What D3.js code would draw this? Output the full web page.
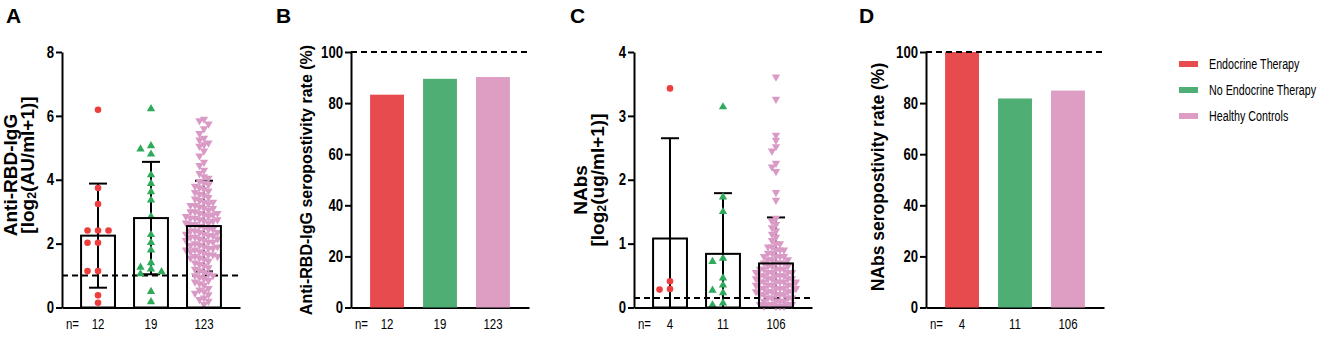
<!DOCTYPE html>
<html>
<head>
<meta charset="utf-8">
<script src="https://cdn.jsdelivr.net/npm/d3@7"></script>
<style>
  body { margin: 0; background: #fff; }
  svg { display: block; }
  .axis path, .axis line { stroke: #000; stroke-width: 2; }
  .axis text { font-family: "Liberation Sans", Arial, sans-serif; font-weight: bold; font-size: 16px; fill: #000; }
  .nlab { font-family: "Liberation Sans", Arial, sans-serif; font-size: 14px; fill: #000; }
  .ttl { font-family: "Liberation Sans", Arial, sans-serif; font-weight: bold; fill: #000; }
  .legend text { font-family: "Liberation Sans", Arial, sans-serif; font-size: 14.5px; fill: #000; }
</style>
</head>
<body>
<div id="chart"></div>
<script>
// Data
const groups = ["Endocrine Therapy", "No Endocrine Therapy", "Healthy Controls"]

// panel A: anti-RBD-IgG, log2(AU/ml+1)
const iggEndocrine = [6.19, 3.74, 3.24, 2.41, 2.41, 2.41, 2.03, 2.03, 1.14, 1.14, 0.38, 0.15]
const iggNoEndocrine = [6.22, 5.06, 4.96, 4.80, 4.15, 3.88, 3.62, 3.36, 2.85, 2.28, 2.03, 1.80,
  1.40, 1.26, 1.20, 1.12, 1.05, 0.50, 0.18]
const iggHealthy = [5.90, 5.85, 5.75, 5.60, 5.45, 5.30, 5.25, 5.15, 5.10, 5.05,
  4.90, 4.75, 4.55, 4.45, 4.30, 4.20, 4.10, 4.05,
  3.95, 3.90, 3.85, 3.80, 3.75, 3.70, 3.65, 3.60, 3.55, 3.50,
  3.45, 3.40, 3.35, 3.30, 3.30, 3.25, 3.20, 3.20, 3.15, 3.10, 3.10, 3.05, 3.00, 3.00,
  2.95, 2.95, 2.90, 2.90, 2.85, 2.85, 2.80, 2.80, 2.75, 2.75, 2.70, 2.70, 2.65, 2.65, 2.60, 2.60, 2.55, 2.50,
  2.45, 2.45, 2.40, 2.40, 2.35, 2.35, 2.30, 2.30, 2.25, 2.25, 2.20, 2.20, 2.15, 2.15, 2.10, 2.10, 2.05, 2.05, 2.00,
  1.95, 1.95, 1.90, 1.90, 1.85, 1.85, 1.80, 1.80, 1.75, 1.75, 1.70, 1.65, 1.65, 1.60, 1.60, 1.55, 1.55, 1.50,
  1.45, 1.40, 1.35, 1.30, 1.25, 1.20, 1.15, 1.10, 1.05, 1.00, 1.00,
  0.95, 0.90, 0.85, 0.80, 0.75, 0.70, 0.60, 0.55, 0.50,
  0.45, 0.40, 0.30, 0.25, 0.20, 0.10]
const iggMean = [2.25, 2.80, 2.55]
const iggSD = [1.63, 1.76, 1.42]
const iggN = [12, 19, 123]
const iggCutoff = 1
const iggTicks = [0, 2, 4, 6, 8]

// panel B: anti-RBD-IgG seropositivity (%)
const iggRate = [83.3, 89.5, 90.2]

// panel C: NAbs, log2(ug/ml+1)
const nabEndocrine = [3.43, 0.41, 0.29, 0.28]
const nabNoEndocrine = [3.14, 1.73, 1.50, 0.77, 0.72, 0.46, 0.35, 0.27, 0.23, 0.07, 0.04]
const nabHealthy = [3.61, 3.26, 2.70, 2.62, 2.52, 2.45, 2.26, 2.20, 2.13, 1.80, 1.68,
  1.40, 1.35, 1.30, 1.25, 1.20, 1.15, 1.10, 1.05, 1.00, 1.00,
  0.95, 0.95, 0.90, 0.90, 0.90, 0.85, 0.85, 0.80, 0.80, 0.80, 0.80,
  0.75, 0.75, 0.75, 0.70, 0.70, 0.70, 0.70,
  0.65, 0.65, 0.65, 0.60, 0.60, 0.60, 0.60, 0.60,
  0.55, 0.55, 0.55, 0.55, 0.55, 0.50, 0.50, 0.50, 0.50, 0.50,
  0.45, 0.45, 0.45, 0.45, 0.45, 0.40, 0.40, 0.40, 0.40, 0.40, 0.40,
  0.35, 0.35, 0.35, 0.35, 0.35, 0.30, 0.30, 0.30, 0.30, 0.30, 0.30,
  0.25, 0.25, 0.25, 0.25, 0.25, 0.20, 0.20, 0.20, 0.20, 0.20,
  0.15, 0.15, 0.15, 0.15, 0.10, 0.10, 0.10, 0.10,
  0.05, 0.05, 0.05, 0.05, 0.05, 0.02, 0.02, 0.02, 0.02]
const nabMean = [1.08, 0.84, 0.69]
const nabSD = [1.57, 0.95, 0.72]
const nabN = [4, 11, 106]
const nabCutoff = 0.15
const nabTicks = [0, 1, 2, 3, 4]

// panel D: NAbs seropositivity (%)
const nabRate = [100, 81.8, 84.9]

const rateTicks = [0, 20, 40, 60, 80, 100]

// Dimensions
const width = 1325, height = 337
const marginTop = 52, plotH = 255.5, plotW = 178
const squeeze = 0.82   // the figure's text is horizontally condensed

const barColor = d3.scaleOrdinal().domain(groups).range(["#e84b4d", "#4eae74", "#de9ec3"])
const dotColor = d3.scaleOrdinal().domain(groups).range(["#ee3d3d", "#2faa5c", "#d99ac6"])

const svg = d3.select("#chart").append("svg")
  .attr("width", width)
  .attr("height", height)

// condense text horizontally around its anchor point
function narrow(sel, k = squeeze) {
  sel.each(function () {
    const t = d3.select(this)
    const x = +t.attr("x") || 0, y = +t.attr("y") || 0
    t.attr("x", 0).attr("y", 0).attr("transform", `translate(${x},${y}) scale(${k},1)`)
  })
}

// simple column swarm: points sit on columns dx apart, at least h px apart vertically
function swarm(values, y, dx, h) {
  const pts = values.map(v => ({ v, py: y(v) })).sort((a, b) => a.py - b.py)
  const placed = []
  for (const p of pts) {
    for (let k = 0; ; k++) {
      const off = k === 0 ? 0 : (k % 2 ? -1 : 1) * Math.ceil(k / 2) * dx
      const hit = placed.some(q => Math.abs(q.py - p.py) < h && Math.abs(q.off - off) < dx * 0.5)
      if (!hit) { p.off = off; break }
    }
    placed.push(p)
  }
  return placed
}

function frame(ax, ymax, ticks, ns) {
  const g = svg.append("g").attr("transform", `translate(${ax},${marginTop})`)
  const x = d3.scaleBand().domain(groups).range([0, plotW]).padding(0.36)
  const y = d3.scaleLinear().domain([0, ymax]).range([plotH, 0])

  g.append("g").attr("class", "axis")
    .call(d3.axisLeft(y).tickValues(ticks).tickFormat(d3.format("d"))
      .tickSize(6).tickSizeOuter(0).tickPadding(2))
    .call(a => narrow(a.selectAll("text")))
  g.append("g").attr("class", "axis")
    .attr("transform", `translate(0,${plotH})`)
    .call(d3.axisBottom(x).tickSize(0).tickSizeOuter(0).tickFormat(() => ""))

  g.append("text").attr("class", "nlab")
    .attr("x", 10.5).attr("y", plotH + 21)
    .attr("text-anchor", "middle").text("n=")
    .call(narrow)
  g.selectAll(".nval").data(groups).join("text")
    .attr("class", "nlab")
    .attr("x", d => x(d) + x.bandwidth() / 2)
    .attr("y", plotH + 21)
    .attr("text-anchor", "middle")
    .text((d, i) => ns[i])
    .call(narrow)
  return { g, x, y }
}

function refLine(p, value) {
  p.g.append("line")
    .attr("x1", 0).attr("x2", plotW)
    .attr("y1", p.y(value)).attr("y2", p.y(value))
    .attr("stroke", "#000").attr("stroke-width", 2)
    .attr("stroke-dasharray", "6,4")
}

function dotPanel(ax, series, means, sds, ns, ymax, ticks, cutoff, swarmOpts) {
  const p = frame(ax, ymax, ticks, ns)
  const { g, x, y } = p
  const bw = x.bandwidth()

  g.selectAll(".barfill").data(groups).join("rect")
    .attr("x", d => x(d)).attr("width", bw)
    .attr("y", (d, i) => y(means[i])).attr("height", (d, i) => plotH - y(means[i]))
    .attr("fill", "#fff")

  refLine(p, cutoff)

  // error bars (mean ± SD, clipped at 0)
  groups.forEach((grp, i) => {
    const cx = x(grp) + bw / 2
    const hi = y(means[i] + sds[i])
    const lo = y(Math.max(0, means[i] - sds[i]))
    const eg = g.append("g").attr("stroke", "#000").attr("stroke-width", 2)
    eg.append("line").attr("x1", cx).attr("x2", cx).attr("y1", hi).attr("y2", lo)
    eg.append("line").attr("x1", cx - 9).attr("x2", cx + 9).attr("y1", hi).attr("y2", hi)
    if (means[i] - sds[i] > 0)
      eg.append("line").attr("x1", cx - 9).attr("x2", cx + 9).attr("y1", lo).attr("y2", lo)
  })

  const shapes = [d3.symbolCircle, d3.symbolTriangle, d3.symbolTriangle]
  const sizes = [34, 30, 30]
  series.forEach((vals, i) => {
    const cx = x(groups[i]) + bw / 2
    const pts = swarm(vals, y, swarmOpts[i].dx, swarmOpts[i].h)
    g.append("g").selectAll("path").data(pts).join("path")
      .attr("d", d3.symbol().type(shapes[i]).size(sizes[i]))
      .attr("transform", d => `translate(${cx + d.off},${d.py})` + (i === 2 ? " rotate(180)" : ""))
      .attr("fill", dotColor(groups[i]))
  })

  g.selectAll(".barline").data(groups).join("rect")
    .attr("x", d => x(d)).attr("width", bw)
    .attr("y", (d, i) => y(means[i])).attr("height", (d, i) => plotH - y(means[i]))
    .attr("fill", "none").attr("stroke", "#000").attr("stroke-width", 2)
}

function ratePanel(ax, rates, ns) {
  const p = frame(ax, 100, rateTicks, ns)
  const { g, x, y } = p
  g.selectAll(".bar").data(groups).join("rect")
    .attr("x", d => x(d)).attr("width", x.bandwidth())
    .attr("y", (d, i) => y(rates[i])).attr("height", (d, i) => plotH - y(rates[i]))
    .attr("fill", d => barColor(d))
  refLine(p, 100)
}

function letter(x, t) {
  svg.append("text").attr("class", "ttl")
    .attr("x", x).attr("y", 23).attr("font-size", 21).text(t)
}

function vtitle(cx, cy, size, parts) {
  const t = svg.append("text").attr("class", "ttl")
    .attr("transform", `translate(${cx},${cy}) rotate(-90)`)
    .attr("text-anchor", "middle")
    .attr("dominant-baseline", "central")
    .attr("font-size", size)
  parts.forEach(([s, sub]) => {
    if (sub) t.append("tspan").attr("dy", 5).attr("font-size", size * 0.65).text(s)
    else t.append("tspan").attr("dy", t.selectAll("tspan").size() ? -5 : 0).text(s)
  })
}

// Panel A
letter(6, "A")
vtitle(15, 175, 19, [["Anti-RBD-IgG"]])
vtitle(32, 165, 19, [["[log"], ["2", true], ["(AU/ml+1)]"]])
dotPanel(62, [iggEndocrine, iggNoEndocrine, iggHealthy], iggMean, iggSD, iggN, 8, iggTicks, iggCutoff,
  [{ dx: 10.5, h: 6.5 }, { dx: 10.5, h: 6 }, { dx: 4.5, h: 6 }])

// Panel B
letter(276, "B")
vtitle(311, 180, 16, [["Anti-RBD-IgG seropostivity rate (%)"]])
ratePanel(351, iggRate, iggN)

// Panel C
letter(570, "C")
vtitle(585, 190, 19, [["NAbs"]])
vtitle(602, 180, 19, [["[log"], ["2", true], ["(ug/ml+1)]"]])
dotPanel(634, [nabEndocrine, nabNoEndocrine, nabHealthy], nabMean, nabSD, nabN, 4, nabTicks, nabCutoff,
  [{ dx: 10.5, h: 6.5 }, { dx: 10.5, h: 6 }, { dx: 4, h: 5 }])

// Panel D
letter(859, "D")
vtitle(883, 177, 17.5, [["NAbs seropostivity rate (%)"]])
ratePanel(926, nabRate, nabN)

// Legend
const legend = svg.append("g").attr("class", "legend").attr("transform", "translate(1179,64)")
legend.selectAll("rect").data(groups).join("rect")
  .attr("x", 0).attr("y", (d, i) => i * 26 - 3)
  .attr("width", 19).attr("height", 6)
  .attr("fill", d => barColor(d))
legend.selectAll("text").data(groups).join("text")
  .attr("x", 30).attr("y", (d, i) => i * 26)
  .attr("dominant-baseline", "central")
  .text(d => d)
  .call(s => narrow(s, 0.74))
</script>
</body>
</html>
